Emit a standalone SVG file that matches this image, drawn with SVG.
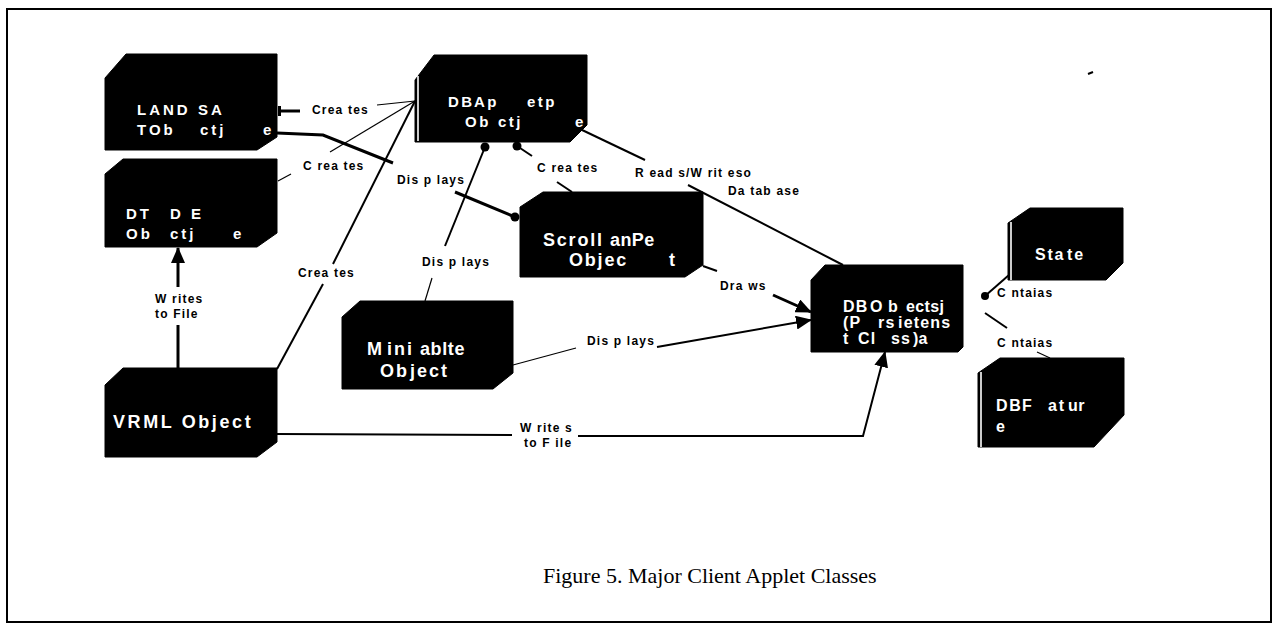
<svg xmlns="http://www.w3.org/2000/svg" width="1273" height="624" viewBox="0 0 1273 624">
  <style>
    .node { fill: #000; stroke: #000; stroke-width: 1; }
    .rail { stroke: #fff; stroke-width: 1.6; }
    .nt { font-family: "Liberation Sans", Arial, sans-serif; font-weight: bold; fill: #fff; }
    .lb { font-family: "Liberation Sans", Arial, sans-serif; font-weight: bold; font-size: 12px; letter-spacing: 1.2px; fill: #000; }
    .ln { fill: none; stroke: #000; stroke-linecap: butt; stroke-linejoin: miter; }
    .thin { stroke-width: 1.2; }
    .mid { stroke-width: 2; }
    .thick { stroke-width: 3; }
    .dot { fill: #000; }
    .cap { font-family: "Liberation Serif", "Times New Roman", serif; font-size: 22px; fill: #000; }
  </style>
  <defs>
    <marker id="arrow" markerUnits="userSpaceOnUse" markerWidth="16" markerHeight="14" refX="15" refY="7" orient="auto">
      <path d="M0,0 L16,7 L0,14 Z" fill="#000"/>
    </marker>
  </defs>

  <rect x="0" y="0" width="1273" height="624" fill="#fff"/>
  <!-- figure frame -->
  <rect x="7" y="9" width="1264" height="613" fill="none" stroke="#000" stroke-width="2"/>

  <!-- connectors -->
  <g id="connectors">
    <!-- DB Applet creates LANDSAT -->
    <line class="ln thick" x1="279" y1="111" x2="300" y2="111"/>
    <rect x="278" y="106" width="3" height="10" class="dot"/>
    <line class="ln thin" x1="377" y1="105" x2="415" y2="101"/>
    <!-- DB Applet creates DTDE -->
    <line class="ln thin" x1="278" y1="181" x2="291" y2="174"/>
    <line class="ln thin" x1="330" y1="152" x2="415" y2="101"/>
    <!-- DB Applet creates VRML -->
    <line class="ln mid" x1="277" y1="369" x2="323" y2="284"/>
    <line class="ln mid" x1="333" y1="264" x2="415" y2="101"/>
    <!-- LANDSAT displays Scroll Pane -->
    <polyline class="ln thick" points="277,133 323,135 393,163"/>
    <line class="ln thick" x1="455" y1="192" x2="515" y2="217"/>
    <circle class="dot" cx="515" cy="217" r="4.5"/>
    <!-- DB Applet displays Minitable -->
    <circle class="dot" cx="485" cy="147" r="4.5"/>
    <line class="ln mid" x1="485" y1="147" x2="445" y2="246"/>
    <line class="ln thin" x1="432" y1="278" x2="425" y2="301"/>
    <!-- DB Applet creates Scroll Pane -->
    <circle class="dot" cx="517" cy="146" r="4.5"/>
    <line class="ln mid" x1="517" y1="146" x2="532" y2="156"/>
    <line class="ln mid" x1="557" y1="182" x2="572" y2="192"/>
    <!-- DB Applet reads/writes DB Objects -->
    <line class="ln mid" x1="580" y1="129" x2="645" y2="160"/>
    <line class="ln mid" x1="688" y1="185" x2="843" y2="265"/>
    <!-- Scroll Pane draws DB Objects -->
    <line class="ln mid" x1="703" y1="266" x2="717" y2="271"/>
    <line class="ln thick" x1="773" y1="295" x2="811" y2="312" marker-end="url(#arrow)"/>
    <!-- Minitable displays DB Objects -->
    <line class="ln thin" x1="513" y1="365" x2="576" y2="348"/>
    <line class="ln mid" x1="657" y1="347" x2="811" y2="320" marker-end="url(#arrow)"/>
    <!-- VRML writes to file: DTDE -->
    <line class="ln thick" x1="178" y1="368" x2="178" y2="325"/>
    <line class="ln thick" x1="178" y1="287" x2="178" y2="248" marker-end="url(#arrow)"/>
    <!-- VRML writes to file: DB Objects -->
    <line class="ln mid" x1="277" y1="434" x2="512" y2="435"/>
    <polyline class="ln mid" points="578,436 863,436 885,352" marker-end="url(#arrow)"/>
    <!-- DB Objects contains State -->
    <circle class="dot" cx="985" cy="296" r="4"/>
    <line class="ln mid" x1="985" y1="296" x2="1009" y2="275"/>
    <!-- DB Objects contains DB Feature -->
    <line class="ln mid" x1="985" y1="313" x2="1007" y2="328"/>
    <line class="ln thin" x1="1037" y1="352" x2="1050" y2="358"/>
    <!-- stray tick -->
    <line class="ln mid" x1="1088" y1="74" x2="1093" y2="72"/>
  </g>

  <!-- connector labels -->
  <g id="labels">
    <text class="lb" x="312" y="114">Crea tes</text>
    <text class="lb" x="303" y="170">C rea tes</text>
    <text class="lb" x="298" y="277">Crea tes</text>
    <text class="lb" x="397" y="184">Dis p lays</text>
    <text class="lb" x="422" y="266">Dis p lays</text>
    <text class="lb" x="537" y="172">C rea tes</text>
    <text class="lb" x="635" y="177">R ead s/W rit eso</text>
    <text class="lb" x="728" y="195">Da tab ase</text>
    <text class="lb" x="720" y="290">Dra ws</text>
    <text class="lb" x="587" y="345">Dis p lays</text>
    <text class="lb" x="155" y="303">W rites</text>
    <text class="lb" x="155" y="318">to File</text>
    <text class="lb" x="520" y="432">W rite s</text>
    <text class="lb" x="524" y="447">to F ile</text>
    <text class="lb" x="997" y="297">C  ntaias</text>
    <text class="lb" x="997" y="347">C  ntaias</text>
  </g>

  <!-- nodes -->
  <g id="landsat">
    <path class="node" d="M105,78 L126,54 L277,54 L277,137 L257,150 L105,150 Z"/>
    <text class="nt" font-size="15" letter-spacing="3"><tspan x="137" y="115">LAND</tspan><tspan x="198" y="115">SA</tspan><tspan x="137" y="135">TOb</tspan><tspan x="200" y="135">ctj</tspan><tspan x="263" y="135">e</tspan></text>
  </g>

  <g id="dtde">
    <path class="node" d="M105,174 L123,159 L277,159 L277,233 L257,247 L105,247 Z"/>
    <text class="nt" font-size="15" letter-spacing="3"><tspan x="126" y="219">DT</tspan><tspan x="170" y="219">D E</tspan><tspan x="126" y="239">Ob</tspan><tspan x="170" y="239">ctj</tspan><tspan x="233" y="239">e</tspan></text>
  </g>

  <g id="dbapplet">
    <path class="node" d="M415,80 L434,55 L587,55 L587,125 L570,142 L415,142 Z"/>
    <line class="rail" x1="418" y1="76" x2="418" y2="141"/>
    <text class="nt" font-size="15" letter-spacing="2.5"><tspan x="448" y="107">DB</tspan><tspan x="474" y="107">Ap</tspan><tspan x="527" y="107">etp</tspan><tspan x="465" y="127">Ob</tspan><tspan x="498" y="127">ctj</tspan><tspan x="575" y="127">e</tspan></text>
  </g>

  <g id="scrollpane">
    <path class="node" d="M520,207 L543,192 L703,192 L703,265 L685,277 L520,277 Z"/>
    <text class="nt" font-size="18" letter-spacing="1.8"><tspan x="543" y="246">Scroll</tspan><tspan x="610" y="246" letter-spacing="0.4">anPe</tspan><tspan x="569" y="266">Objec</tspan><tspan x="669" y="266">t</tspan></text>
  </g>

  <g id="minitable">
    <path class="node" d="M342,317 L360,301 L513,301 L513,373 L493,389 L342,389 Z"/>
    <text class="nt" font-size="18" letter-spacing="2"><tspan x="367" y="355">M</tspan><tspan x="387" y="355">ini</tspan><tspan x="420" y="355" letter-spacing="0.6">ablte</tspan><tspan x="380" y="377">Ob</tspan><tspan x="410" y="377">ject</tspan></text>
  </g>

  <g id="vrml">
    <path class="node" d="M105,385 L123,368 L277,368 L277,442 L257,457 L105,457 Z"/>
    <text class="nt" font-size="18" letter-spacing="2.6" x="113" y="428">VRML Object</text>
  </g>

  <g id="dbobjects">
    <path class="node" d="M811,280 L825,265 L963,265 L963,347 L958,352 L811,352 Z"/>
    <text class="nt" font-size="16" letter-spacing="1.2"><tspan x="843" y="312">DB</tspan><tspan x="870" y="312">O</tspan><tspan x="888" y="312">b</tspan><tspan x="906" y="312" letter-spacing="0.4">ectsj</tspan><tspan x="843" y="328">(P</tspan><tspan x="878" y="328">rs</tspan><tspan x="898" y="328">ietens</tspan><tspan x="843" y="344">t</tspan><tspan x="858" y="344">Cl</tspan><tspan x="891" y="344">ss</tspan><tspan x="913" y="344" letter-spacing="0.2">)a</tspan></text>
  </g>

  <g id="state">
    <path class="node" d="M1008,223 L1030,208 L1123,208 L1123,263 L1106,280 L1008,280 Z"/>
    <line class="rail" x1="1011" y1="222" x2="1011" y2="280"/>
    <text class="nt" font-size="16" letter-spacing="1.8"><tspan x="1035" y="260">Sta</tspan><tspan x="1067" y="260">te</tspan></text>
  </g>

  <g id="dbfeature">
    <path class="node" d="M978,373 L1000,358 L1124,358 L1124,415 L1094,447 L978,447 Z"/>
    <line class="rail" x1="981" y1="372" x2="981" y2="447"/>
    <text class="nt" font-size="16" letter-spacing="1.8"><tspan x="996" y="411">DB</tspan><tspan x="1022" y="411">F</tspan><tspan x="1048" y="411">at</tspan><tspan x="1068" y="411" letter-spacing="0.4">ur</tspan><tspan x="996" y="432">e</tspan></text>
  </g>

  <!-- caption -->
  <text class="cap" x="543" y="583">Figure 5. Major Client Applet Classes</text>
</svg>
